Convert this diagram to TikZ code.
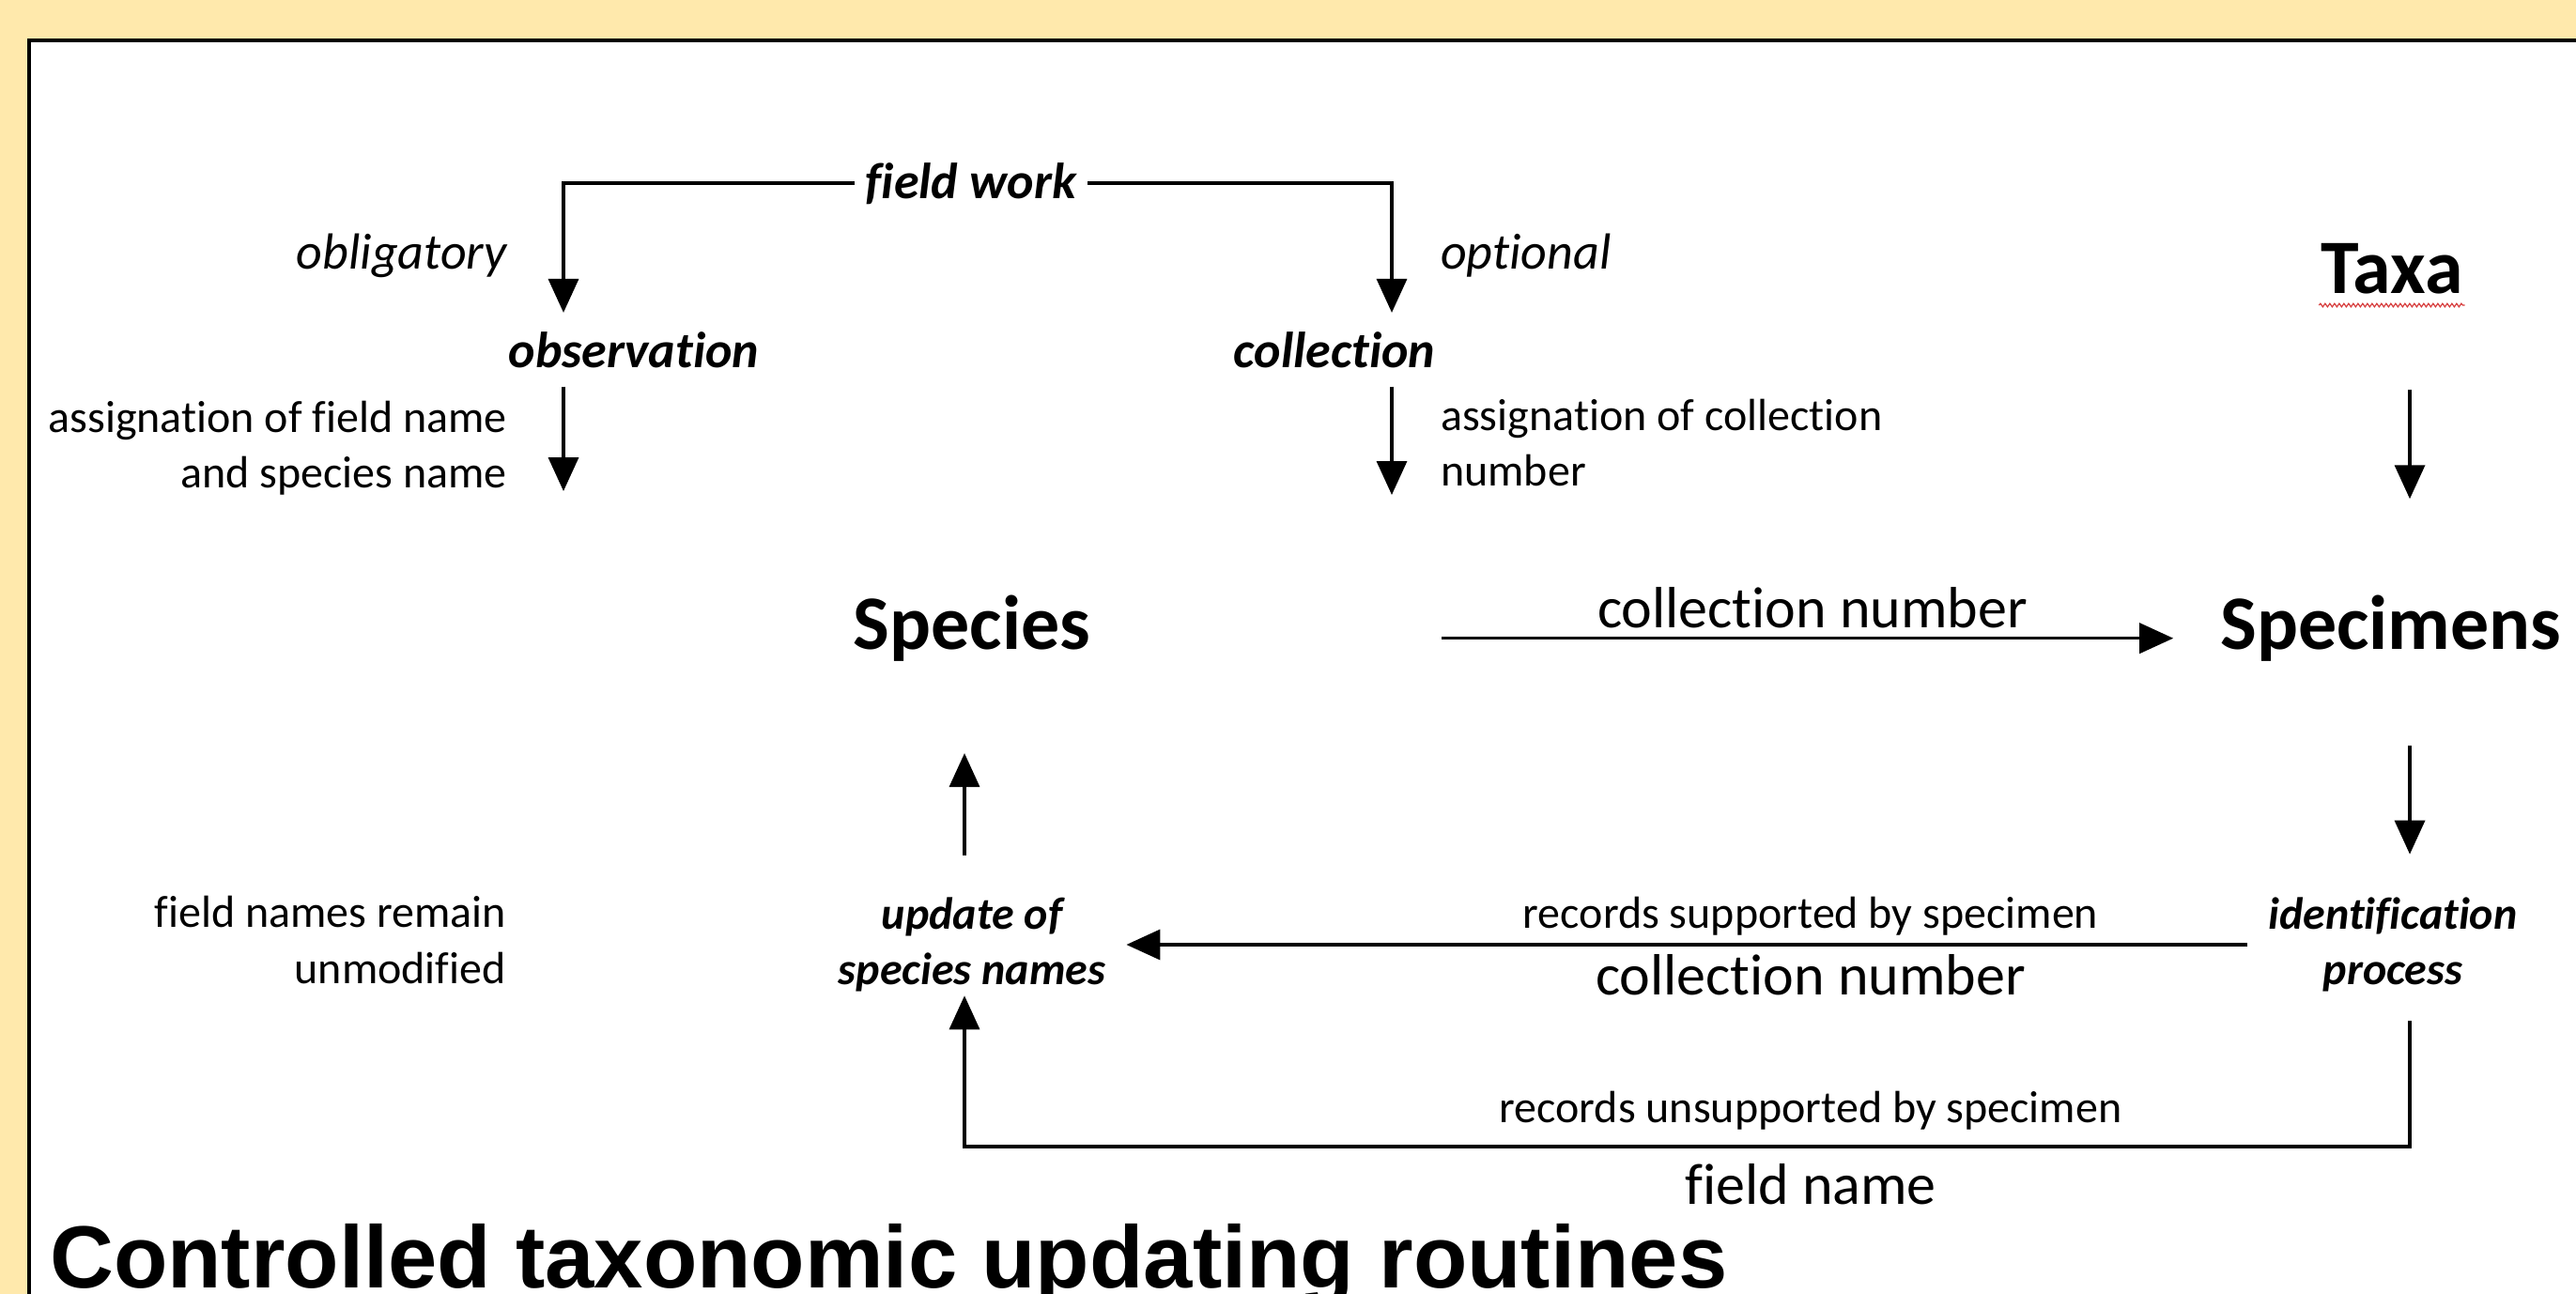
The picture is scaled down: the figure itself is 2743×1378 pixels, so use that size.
\documentclass[tikz,border=0pt]{standalone}
\usepackage{fontspec}
\setmainfont{Carlito}[Ligatures=NoCommon]
\newfontfamily\headfont{Liberation Sans}
\usetikzlibrary{arrows.meta,decorations.pathmorphing}
\definecolor{bgYellow}{RGB}{255,233,172}
\definecolor{spellRed}{RGB}{215,60,60}

\begin{document}
\begin{tikzpicture}
[x=1pt, y=-1pt,
  bigDecorate/.style={font=\fontsize{82pt}{98pt}\selectfont\bfseries,
    inner xsep=50pt, inner ysep=90pt, anchor=base},%
  stepDecorate/.style={font=\fontsize{54pt}{65pt}\selectfont\bfseries\itshape,
    inner xsep=12pt, inner ysep=20pt, anchor=base},%
  noteDecorate/.style={font=\fontsize{54pt}{65pt}\selectfont\itshape, inner sep=0pt},%
  procDecorate/.style={font=\fontsize{48pt}{59pt}\selectfont\bfseries\itshape,
    align=center, inner xsep=22pt, inner ysep=4pt},%
  labelDecorate/.style={font=\fontsize{48pt}{59pt}\selectfont, inner sep=0pt},%
  numberDecorate/.style={font=\fontsize{62pt}{74pt}\selectfont,
    inner xsep=0pt, inner ysep=18pt, anchor=base},%
  lineDecorate/.style={line width=3.5pt},%
  arrowDecorate/.style={lineDecorate, -{Triangle[length=36pt,width=32pt]}},%
  spellWave/.style={draw=spellRed, line width=1.2pt, decorate,
    decoration={snake, amplitude=1.8pt, segment length=5pt}}]
%% background and panel
\useasboundingbox (0,0) rectangle (2743,1378);
\fill[bgYellow] (0,0) rectangle (2743,1378);
\fill[white] (31,43) rectangle (2743,1378);
\draw[line width=3.5pt] (31,1378) |- (2743,43);
%% columns of the vertical arrows
\foreach \colname/\x in {leftCol/600, rightCol/1482, taxaCol/2566, speciesCol/1027}
{
  \coordinate (\colname) at (\x,0);
}
\coordinate (obsEnd) at (600,523);
\coordinate (colEnd) at (1482,527);
%% main words
\foreach \nodename/\x/\y/\word in {
  taxa/2547/312/Taxa, specimens/2546/691/Specimens, species/1035/691/Species}
{
  \node (\nodename) at (\x,\y) [bigDecorate] {\word};
}
%% field work steps
\node (fieldwork) at (1034,211) [stepDecorate] {field work};
\node (observation) at (675,391) [stepDecorate] {observation};
\node (collection) at (1421,391) [stepDecorate] {collection};
\node (obligatory) at (540,286) [noteDecorate, anchor=base east] {obligatory};
\node (optional) at (1534,286) [noteDecorate, anchor=base west] {optional};
\node (fieldAssign) at (540,477) [labelDecorate, align=right, anchor=east]
  {assignation of field name\\and species name};
\node (colAssign) at (1534,472) [labelDecorate, align=left, anchor=west]
  {assignation of collection\\number};
%% updating
\node (remain) at (539,1001) [labelDecorate, align=right, anchor=east]
  {field names remain\\unmodified};
\node (update) at (1035,1006) [procDecorate] {update of\\species names};
\node (identification) at (2548,1006) [procDecorate] {identification\\process};
\node (supported) at (1928,988) [labelDecorate, anchor=base] {records supported by specimen};
\node (unsupported) at (1928,1195) [labelDecorate, anchor=base] {records unsupported by specimen};
\foreach \nodename/\x/\y/\word in {
  topNumber/1930/668/collection number, bottomNumber/1928/1059/collection number,
  fieldName/1928/1282/field name}
{
  \node (\nodename) at (\x,\y) [numberDecorate] {\word};
}
\node (title) at (53,1371) [anchor=base west, inner sep=0pt,
  font=\headfont\fontsize{94pt}{108pt}\selectfont\bfseries]
  {Controlled taxonomic updating routines};
%% edges
\draw[spellWave] ([xshift=48pt,yshift=-13pt]taxa.base west) -- ([xshift=-48pt,yshift=-13pt]taxa.base east);
\draw[arrowDecorate] (fieldwork.west) -| (observation.north -| leftCol);
\draw[arrowDecorate] (fieldwork.east) -| (collection.north -| rightCol);
\draw[arrowDecorate] (observation.south -| leftCol) -- (obsEnd);
\draw[arrowDecorate] (collection.south -| rightCol) -- (colEnd);
\draw[arrowDecorate, shorten <=12pt, shorten >=12pt] (taxa.south -| taxaCol) -- (specimens.north -| taxaCol);
\draw[arrowDecorate, shorten >=42pt] (specimens.south -| taxaCol) -- (identification.north -| taxaCol);
\draw[arrowDecorate, shorten <=324pt] ([yshift=-11pt]species.east) -- ([yshift=-11pt]specimens.west);
\draw[arrowDecorate] (identification.west) -- (update.east);
\draw[arrowDecorate, shorten <=41pt, shorten >=8pt] (update.north -| speciesCol) -- (species.south -| speciesCol);
\draw[arrowDecorate, shorten <=27pt] (identification.south -| taxaCol) |- (fieldName.north) -| (update.south -| speciesCol);
\end{tikzpicture}
\end{document}
